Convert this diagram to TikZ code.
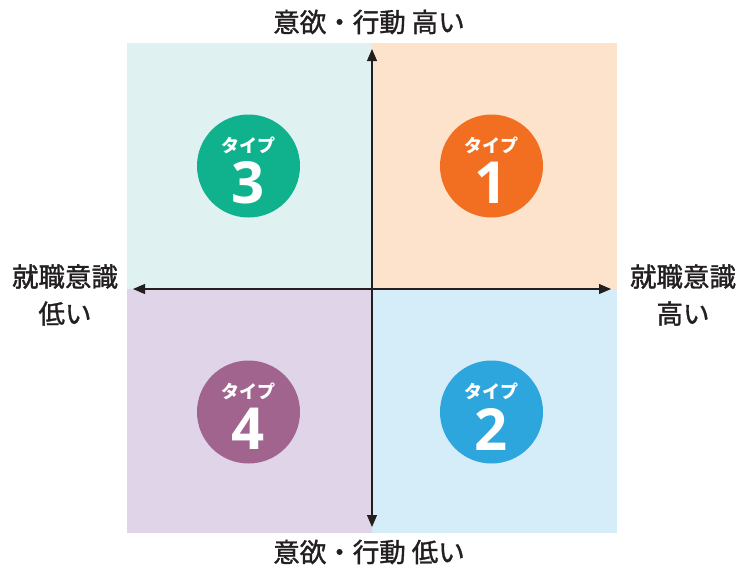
\documentclass[tikz,border=0pt]{standalone}
\usepackage{fontspec}
\setmainfont{Noto Sans CJK JP}
\newfontfamily\medfont[FakeBold=1.3]{Noto Sans CJK JP}
\newfontfamily\numfont{Open Sans}
\usetikzlibrary{arrows.meta}
\definecolor{bgTL}{HTML}{E0F1F1}
\definecolor{bgTR}{HTML}{FDE3CB}
\definecolor{bgBL}{HTML}{E0D5E8}
\definecolor{bgBR}{HTML}{D5ECF9}
\definecolor{cTeal}{HTML}{10B28E}
\definecolor{cOrange}{HTML}{F26F21}
\definecolor{cPurple}{HTML}{A0648F}
\definecolor{cBlue}{HTML}{2DA5DD}
\definecolor{ink}{HTML}{231F20}
\tikzset{
  badge/.style={circle, minimum size=103pt, inner sep=0pt},
  typelbl/.style={text=white, font=\fontsize{18}{18}\selectfont\bfseries, inner sep=0pt},
  numlbl/.style={text=white, font=\numfont\fontsize{58}{58}\selectfont\bfseries, inner sep=0pt},
  axislbl/.style={text=ink, font=\medfont\fontsize{26.5}{26.5}\selectfont, inner sep=0pt},
  sidelbl/.style={text=ink, font=\medfont\fontsize{26.5}{37}\selectfont, align=center, inner sep=0pt},
  axis/.style={draw=ink, line width=1.1pt, -{Triangle[length=12pt,width=10pt]}}
}
\begin{document}
\begin{tikzpicture}[x=1pt,y=-1pt]
\useasboundingbox (0,0) rectangle (738,568);
\fill[white] (0,0) rectangle (738,568);
\fill[bgTL] (127,43) rectangle (372,289);
\fill[bgTR] (372,43) rectangle (617,289);
\fill[bgBL] (127,289) rectangle (372,533);
\fill[bgBR] (372,289) rectangle (617,533);
\coordinate (o) at (372,289);
\coordinate (top) at (372,49);
\coordinate (bot) at (372,527);
\coordinate (lft) at (133,289);
\coordinate (rgt) at (611,289);
\draw[axis] (o) -- (top);
\draw[axis] (o) -- (bot);
\draw[axis] (o) -- (lft);
\draw[axis] (o) -- (rgt);
\node[badge, fill=cTeal] (b3) at (248.5,166) {};
\node[badge, fill=cOrange] (b1) at (491.5,166) {};
\node[badge, fill=cPurple] (b4) at (248.5,412) {};
\node[badge, fill=cBlue] (b2) at (491.5,412) {};
\foreach \b/\n in {b3/3, b1/1, b4/4, b2/2} {
  \node[typelbl] (\b t) at ([yshift=21pt]\b.center) {タイプ};
  \node[numlbl] (\b n) at ([yshift=-17pt]\b.center) {\n};
}
\node[axislbl] (tt) at (369,22) {意欲・行動 高い};
\node[axislbl] (bt) at (369,552) {意欲・行動 低い};
\node[sidelbl] (lt) at (65,295) {就職意識\\低い};
\node[sidelbl] (rt) at (683,295) {就職意識\\高い};
\end{tikzpicture}
\end{document}
